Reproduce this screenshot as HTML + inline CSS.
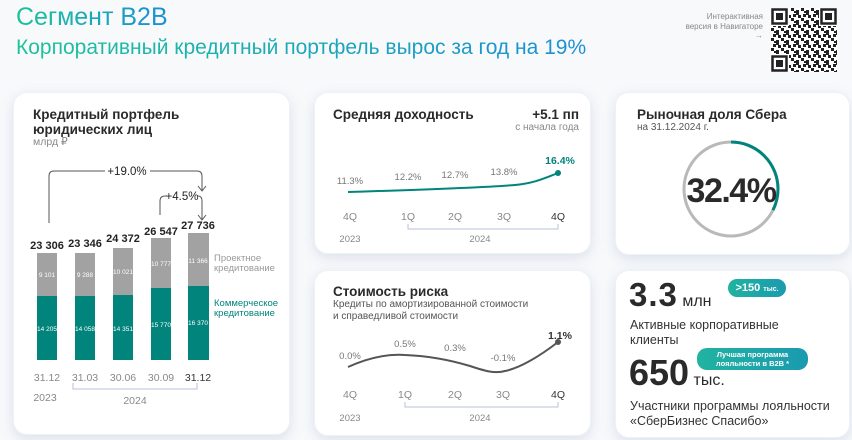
<!DOCTYPE html>
<html><head><meta charset="utf-8"><style>
*{margin:0;padding:0;box-sizing:border-box}
body{width:852px;height:440px;background:#f7f9fb;font-family:"Liberation Sans","DejaVu Sans",sans-serif;position:relative;overflow:hidden;color:#222}
.a{position:absolute;white-space:nowrap}
.card{position:absolute;background:#fff;border-radius:14px;box-shadow:0 4px 12px rgba(140,160,190,.25);border:1px solid #eef1f6}
.grad{background:linear-gradient(90deg,#1ec29a,#1a8fd6);-webkit-background-clip:text;background-clip:text;color:transparent}
.t{font-weight:bold;font-size:13.5px;color:#2a2a2a}
.g{color:#888}
.pill{position:absolute;border-radius:10px;background:linear-gradient(90deg,#21b3a0,#1a9ab0);color:#fff;font-weight:bold;text-align:center}
</style></head><body>
<div class="a grad" style="left:16px;top:2px;font-size:25px;line-height:30px">Сегмент B2B</div>
<div class="a grad" style="left:16px;top:34px;font-size:21px;line-height:28px">Корпоративный кредитный портфель вырос за год на 19%</div>
<div class="a g" style="right:89px;top:12px;font-size:8px;text-align:right;line-height:9.5px">Интерактивная<br>версия в Навигаторе<br>→</div>
<svg class="a" style="left:771px;top:8px" width="66" height="64" viewBox="0 0 66 64">
<defs><pattern id="q" width="10" height="10" patternUnits="userSpaceOnUse"><rect width="10" height="10" fill="#fff"/><rect x="0" y="0" width="3" height="3" fill="#222"/><rect x="5" y="2" width="3" height="5" fill="#222"/><rect x="2" y="6" width="3" height="3" fill="#222"/><rect x="7" y="7" width="3" height="3" fill="#222"/><rect x="3" y="3" width="2" height="2" fill="#222"/></pattern></defs>
<rect width="66" height="64" fill="url(#q)"/>
<g fill="#fff"><rect width="18" height="18"/><rect x="48" width="18" height="18"/><rect y="46" width="18" height="18"/></g>
<g fill="none" stroke="#222" stroke-width="2.5"><rect x="1.5" y="1.5" width="14" height="14"/><rect x="50.5" y="1.5" width="14" height="14"/><rect x="1.5" y="48.5" width="14" height="14"/></g>
<g fill="#222"><rect x="5" y="5" width="7" height="7"/><rect x="54" y="5" width="7" height="7"/><rect x="5" y="52" width="7" height="7"/></g></svg>

<div class="card" style="left:13px;top:92px;width:277px;height:343px"></div>
<div class="card" style="left:314px;top:92px;width:277px;height:162px"></div>
<div class="card" style="left:314px;top:270px;width:277px;height:166px"></div>
<div class="card" style="left:615px;top:92px;width:235px;height:163px"></div>
<div class="card" style="left:615px;top:270px;width:235px;height:168px"></div>

<!-- card1 -->
<div class="a t" style="left:33px;top:107px;line-height:15px">Кредитный портфель<br>юридических лиц</div>
<div class="a g" style="left:33px;top:136px;font-size:10.5px">млрд ₽</div>
<svg class="a" style="left:0;top:0" width="300" height="440">
<g fill="none" stroke="#555" stroke-width="1">
<path d="M49 223 V176 Q49 171 54 171 H105"/><path d="M150 171 H197 Q202 171 202 176 V190"/>
<path d="M160 215 V201 Q160 196 165 196 H167"/><path d="M198 196 Q202 196 202 201 V220"/>
<path d="M198 186 L202 191 L206 186"/><path d="M198 215 L202 220 L206 215"/>
</g>
<text x="127" y="175" font-size="11.5" text-anchor="middle" fill="#222" font-family="Liberation Sans">+19.0%</text>
<text x="182" y="200" font-size="11.5" text-anchor="middle" fill="#222" font-family="Liberation Sans">+4.5%</text>
<g fill="#a2a2a2"><rect x="37" y="253" width="20" height="43"/><rect x="75" y="253" width="20" height="43"/><rect x="113" y="248" width="20" height="47"/><rect x="151" y="238" width="20" height="50"/><rect x="188" y="233" width="21" height="53"/></g>
<g fill="#00847c"><rect x="37" y="296" width="20" height="64"/><rect x="75" y="296" width="20" height="64"/><rect x="113" y="295" width="20" height="65"/><rect x="151" y="288" width="20" height="72"/><rect x="188" y="286" width="21" height="74"/></g>
<g font-family="Liberation Sans" font-size="11" font-weight="bold" fill="#222" text-anchor="middle">
<text x="47" y="249">23 306</text><text x="85" y="247">23 346</text><text x="123" y="242">24 372</text><text x="161" y="235">26 547</text><text x="198" y="229">27 736</text></g>
<g font-family="Liberation Sans" font-size="6.5" fill="#fff" text-anchor="middle">
<text x="47" y="277">9 101</text><text x="85" y="277">9 288</text><text x="123" y="274">10 021</text><text x="161" y="266">10 777</text><text x="198" y="263">11 366</text>
<text x="47" y="331">14 205</text><text x="85" y="331">14 058</text><text x="123" y="331">14 351</text><text x="161" y="327">15 770</text><text x="198" y="325">16 370</text></g>
<g font-family="Liberation Sans" font-size="10.5" fill="#888" text-anchor="middle">
<text x="47" y="381">31.12</text><text x="85" y="381">31.03</text><text x="123" y="381">30.06</text><text x="161" y="381">30.09</text><text x="198" y="381" fill="#333">31.12</text>
<text x="45" y="401">2023</text><text x="135" y="404">2024</text></g>
<path d="M73 383 V389 H197 V383" fill="none" stroke="#b8c0d8" stroke-width="1"/>
<g font-family="Liberation Sans" font-size="9.5" fill="#999"><text x="214" y="261">Проектное</text><text x="214" y="271">кредитование</text></g>
<g font-family="Liberation Sans" font-size="9.5" fill="#00847c"><text x="214" y="306">Коммерческое</text><text x="214" y="316">кредитование</text></g>
</svg>

<!-- card2 & card3 -->
<div class="a t" style="left:333px;top:107px">Средняя доходность</div>
<div class="a t" style="right:273px;top:107px">+5.1 пп</div>
<div class="a g" style="right:273px;top:122px;font-size:10px">с начала года</div>
<div class="a t" style="left:333px;top:284px">Стоимость риска</div>
<div class="a" style="left:333px;top:299px;font-size:10px;color:#555;line-height:12px">Кредиты по амортизированной стоимости<br>и справедливой стоимости</div>
<svg class="a" style="left:300px;top:0" width="300" height="440">
<path d="M48 192 C110 190 180 188 215 185 C235 183 245 178 258 173" fill="none" stroke="#00847c" stroke-width="2"/>
<circle cx="258" cy="173" r="3" fill="#00847c"/>
<path d="M48 367 C70 357 90 354 105 355 C130 356 150 360 170 366 C185 371 195 374 205 371 C220 368 240 356 258 342" fill="none" stroke="#555" stroke-width="2"/>
<circle cx="258" cy="342" r="3" fill="#555"/>
<g font-family="Liberation Sans" font-size="9.5" fill="#777" text-anchor="middle">
<text x="50" y="184">11.3%</text><text x="108" y="180">12.2%</text><text x="155" y="178">12.7%</text><text x="204" y="175">13.8%</text>
<text x="50" y="359">0.0%</text><text x="105" y="347">0.5%</text><text x="155" y="351">0.3%</text><text x="203" y="361">-0.1%</text></g>
<text x="260" y="164" font-family="Liberation Sans" font-size="10.5" font-weight="bold" fill="#00847c" text-anchor="middle">16.4%</text>
<text x="260" y="339" font-family="Liberation Sans" font-size="10.5" font-weight="bold" fill="#333" text-anchor="middle">1.1%</text>
<g font-family="Liberation Sans" font-size="10.5" fill="#888" text-anchor="middle">
<text x="50" y="220">4Q</text><text x="108" y="220">1Q</text><text x="155" y="220">2Q</text><text x="204" y="220">3Q</text><text x="258" y="220" fill="#333">4Q</text>
<text x="50" y="242" font-size="9.5">2023</text><text x="180" y="242" font-size="9.5">2024</text>
<text x="50" y="398">4Q</text><text x="105" y="398">1Q</text><text x="155" y="398">2Q</text><text x="203" y="398">3Q</text><text x="258" y="398" fill="#333">4Q</text>
<text x="50" y="421" font-size="9.5">2023</text><text x="180" y="421" font-size="9.5">2024</text></g>
<g fill="none" stroke="#b8c0d8"><path d="M108 224 V229 H258 V224"/><path d="M105 402 V407 H258 V402"/></g>
</svg>

<!-- card4 -->
<div class="a t" style="left:637px;top:107px">Рыночная доля Сбера</div>
<div class="a" style="left:637px;top:122px;font-size:10px;color:#555">на 31.12.2024 г.</div>
<svg class="a" style="left:600px;top:0" width="252" height="440">
<circle cx="131" cy="189" r="47" fill="none" stroke="#b9b9b9" stroke-width="3"/>
<circle cx="131" cy="189" r="47" fill="none" stroke="#00847c" stroke-width="3" stroke-dasharray="95.7 400" transform="rotate(-90 131 189)"/>
<text x="131" y="202" font-family="Liberation Sans" font-size="34" font-weight="bold" fill="#2a2a2a" text-anchor="middle" letter-spacing="-1.5">32.4%</text>
</svg>

<!-- card5 -->
<div class="a" style="left:629px;top:276px;font-size:33px;font-weight:bold;color:#2a2a2a;letter-spacing:1px">3.3<span style="font-size:16px;font-weight:normal;letter-spacing:0"> млн</span></div>
<div class="pill" style="left:728px;top:279px;width:58px;height:18px;font-size:11px;line-height:18px">&gt;150 <span style="font-size:7px">тыс.</span></div>
<div class="a" style="left:630px;top:318px;font-size:12.5px;color:#333;line-height:15px">Активные корпоративные<br>клиенты</div>
<div class="pill" style="left:697px;top:348px;width:111px;height:22px;font-size:7.5px;line-height:9px;padding-top:2px">Лучшая программа<br>лояльности в B2B *</div>
<div class="a" style="left:629px;top:352px;font-size:36px;font-weight:bold;color:#2a2a2a">650<span style="font-size:16px;font-weight:normal"> тыс.</span></div>
<div class="a" style="left:630px;top:399px;font-size:12.5px;color:#333;line-height:15px">Участники программы лояльности<br>«СберБизнес Спасибо»</div>
</body></html>
